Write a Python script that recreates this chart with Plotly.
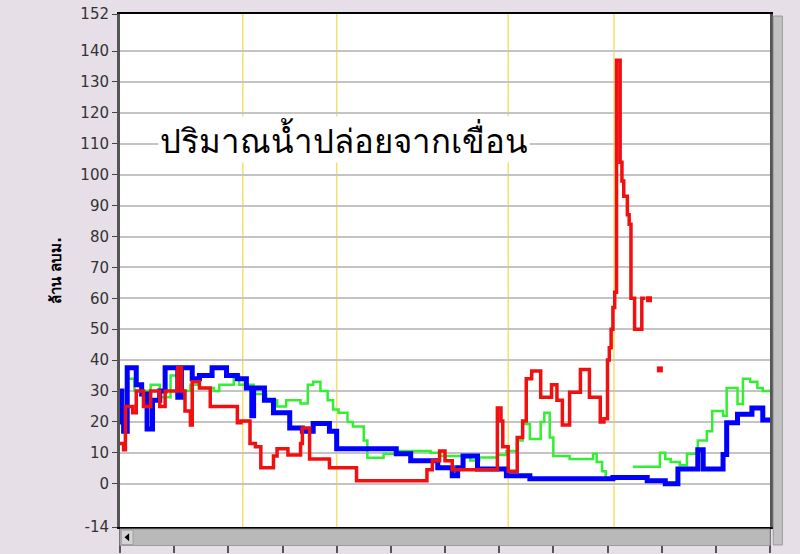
import plotly.graph_objects as go

# ---- data (day of year index, value in million m3) ----
blue_days = [0,1,2,4,9,12,15,18,22,25,32,34,40,44,51,59,65,70,73,74,80,85,94,101,107,116,120,153,161,176,
             184,187,190,198,214,227,273,292,295,302,309,320,323,334,336,342,350,356,360]
blue_vals = [30,20,17,37.5,32,29,17.7,27,30,37.5,28,37.5,34,35,37.5,35,34,31,22,31,27,23,18,17,19.5,17,11.3,9.7,7.4,5.2,
             2.6,5.2,9,4.8,2.6,1.6,2,1,1,0,4.8,11,4.8,9.5,19.7,22.5,24.5,20.6,20.6]

red_days = [0,2,3,7,9,13,17,22,25,32,34,36,39,40,44,50,65,67,72,75,78,85,87,93,100,101,105,116,131,170,
            173,177,180,184,209,211,212,215,220,223,225,228,233,239,242,245,249,255,260,266,
            268,270,271,272,273,274,275,277,278,279,281,282,283,285,289,291]
red_vals = [13,11,25,23,30,25,30,25,30,37.5,30,23.5,19,33,31,25,19.7,20.3,13,12,5.2,9,11.3,9.3,13,18,8,5.2,1,4.5,
            7.4,10.6,7.4,4.5,24.5,20.3,12,4,15,20.3,34,36.5,28,32,27,19,29.6,37,28,20,
            21,40,44,50,57,62,137,104,98,93,87,84,60,50,60,60]
red_pt_days = [293, 299]
red_pt_vals = [59.7, 37]

green_days = [3,4,8,17,22,28,33,39,44,52,55,63,66,74,81,87,92,100,104,107,111,115,118,121,126,129,135,137,146,153,
              172,177,194,199,209,214,220,223,227,233,235,238,240,249,262,264,267,269,276,
              284,299,302,305,310,314,320,325,328,334,336,342,345,349,353,356,360]
green_vals = [30,34,30,32,28,35,30,32,31,30,32,35,32,29,27,25,27,26,32,33,30,27,24,23,20,18.5,14,8.4,9.7,10.6,
              10,9,7.5,8.5,9.3,10.6,14,19.3,14.5,20,23,15,9,8,9.7,7,4,1.6,None,
              5.5,10,8,7,6,9.7,14,17,23.5,22,31,25.8,34,33,31,30,30]

event_days = [68, 120, 215, 273.6]
y_ticks = [-14, 0, 10, 20, 30, 40, 50, 60, 70, 80, 90, 100, 110, 120, 130, 140, 152]
x_ticks = [0, 30, 60, 90, 120, 150, 180, 210, 240, 270, 300, 330, 360]

title_text = "ปริมาณน้ำปล่อยจากเขื่อน"
y_title = "<b>ล้าน ลบม.</b>"

fig = go.Figure()
fig.add_trace(go.Scatter(x=green_days, y=green_vals, mode="lines", line=dict(color="#33ee33", width=2.5, shape="hv"),
                         connectgaps=False, showlegend=False))
fig.add_trace(go.Scatter(x=blue_days, y=blue_vals, mode="lines", line=dict(color="#0000ff", width=5, shape="hv"),
                         showlegend=False))
fig.add_trace(go.Scatter(x=red_days, y=red_vals, mode="lines", line=dict(color="#f01010", width=3.5, shape="hv"),
                         showlegend=False))
fig.add_trace(go.Scatter(x=red_pt_days, y=red_pt_vals, mode="markers",
                         marker=dict(color="#f01010", size=6, symbol="square"), showlegend=False))

shapes = []
for d in event_days:
    shapes.append(dict(type="line", xref="x", yref="paper", x0=d, x1=d, y0=-0.035, y1=1,
                       line=dict(color="#f5e06a", width=1.5), layer="below"))
# zero line
shapes.append(dict(type="line", xref="paper", yref="y", x0=0, x1=1, y0=0, y1=0,
                   line=dict(color="black", width=1.5), layer="below"))
# bottom scrollbar
shapes.append(dict(type="rect", xref="paper", yref="paper", x0=0, x1=1, y0=-0.036, y1=-0.004,
                   fillcolor="#b9b9b9", line=dict(color="#9a9a9a", width=1), layer="above"))
shapes.append(dict(type="rect", xref="paper", yref="paper", x0=0.002, x1=0.02, y0=-0.034, y1=-0.006,
                   fillcolor="#d4d4d4", line=dict(color="#a0a0a0", width=1), layer="above"))
shapes.append(dict(type="path", xref="paper", yref="paper",
                   path="M 0.007,-0.020 L 0.014,-0.012 L 0.014,-0.028 Z",
                   fillcolor="black", line=dict(color="black", width=0), layer="above"))
# right scrollbar
shapes.append(dict(type="rect", xref="paper", yref="paper", x0=1.005, x1=1.019, y0=-0.035, y1=0.996,
                   fillcolor="#c2c2c2", line=dict(color="#9a9a9a", width=1), layer="above"))

fig.update_layout(
    width=800, height=554,
    margin=dict(l=120, r=30, t=14, b=27, autoexpand=False),
    paper_bgcolor="#e7dfe7",
    plot_bgcolor="white",
    shapes=shapes,
    font=dict(family="DejaVu Sans", color="#333333"),
    xaxis=dict(range=[0, 360], tickvals=x_ticks, ticktext=[""] * len(x_ticks), ticks="outside",
               ticklen=24, tickwidth=2, tickcolor="#555555", showgrid=False, zeroline=False,
               showline=True, linecolor="black", linewidth=2, mirror=True),
    yaxis=dict(range=[-14, 152], tickvals=y_ticks, ticktext=[str(v) for v in y_ticks], ticks="outside",
               ticklen=5, tickwidth=1, tickcolor="#444444", tickfont=dict(size=15, color="#333333"),
               showgrid=True, gridcolor="#c4c4c4", gridwidth=1.5, zeroline=False,
               showline=True, linecolor="#555555", linewidth=3, mirror=True,
               title=dict(text=y_title, font=dict(size=15, color="black"),
                          standoff=16)),
    annotations=[dict(text=title_text, xref="paper", yref="paper", x=0.345, y=0.755,
                      showarrow=False, font=dict(size=33, color="black"),
                      bgcolor="white", xanchor="center", yanchor="middle")],
)

fig.write_html("out.html", config={"displayModeBar": False},
               post_script="document.body.style.margin='0';document.body.style.overflow='hidden';")
